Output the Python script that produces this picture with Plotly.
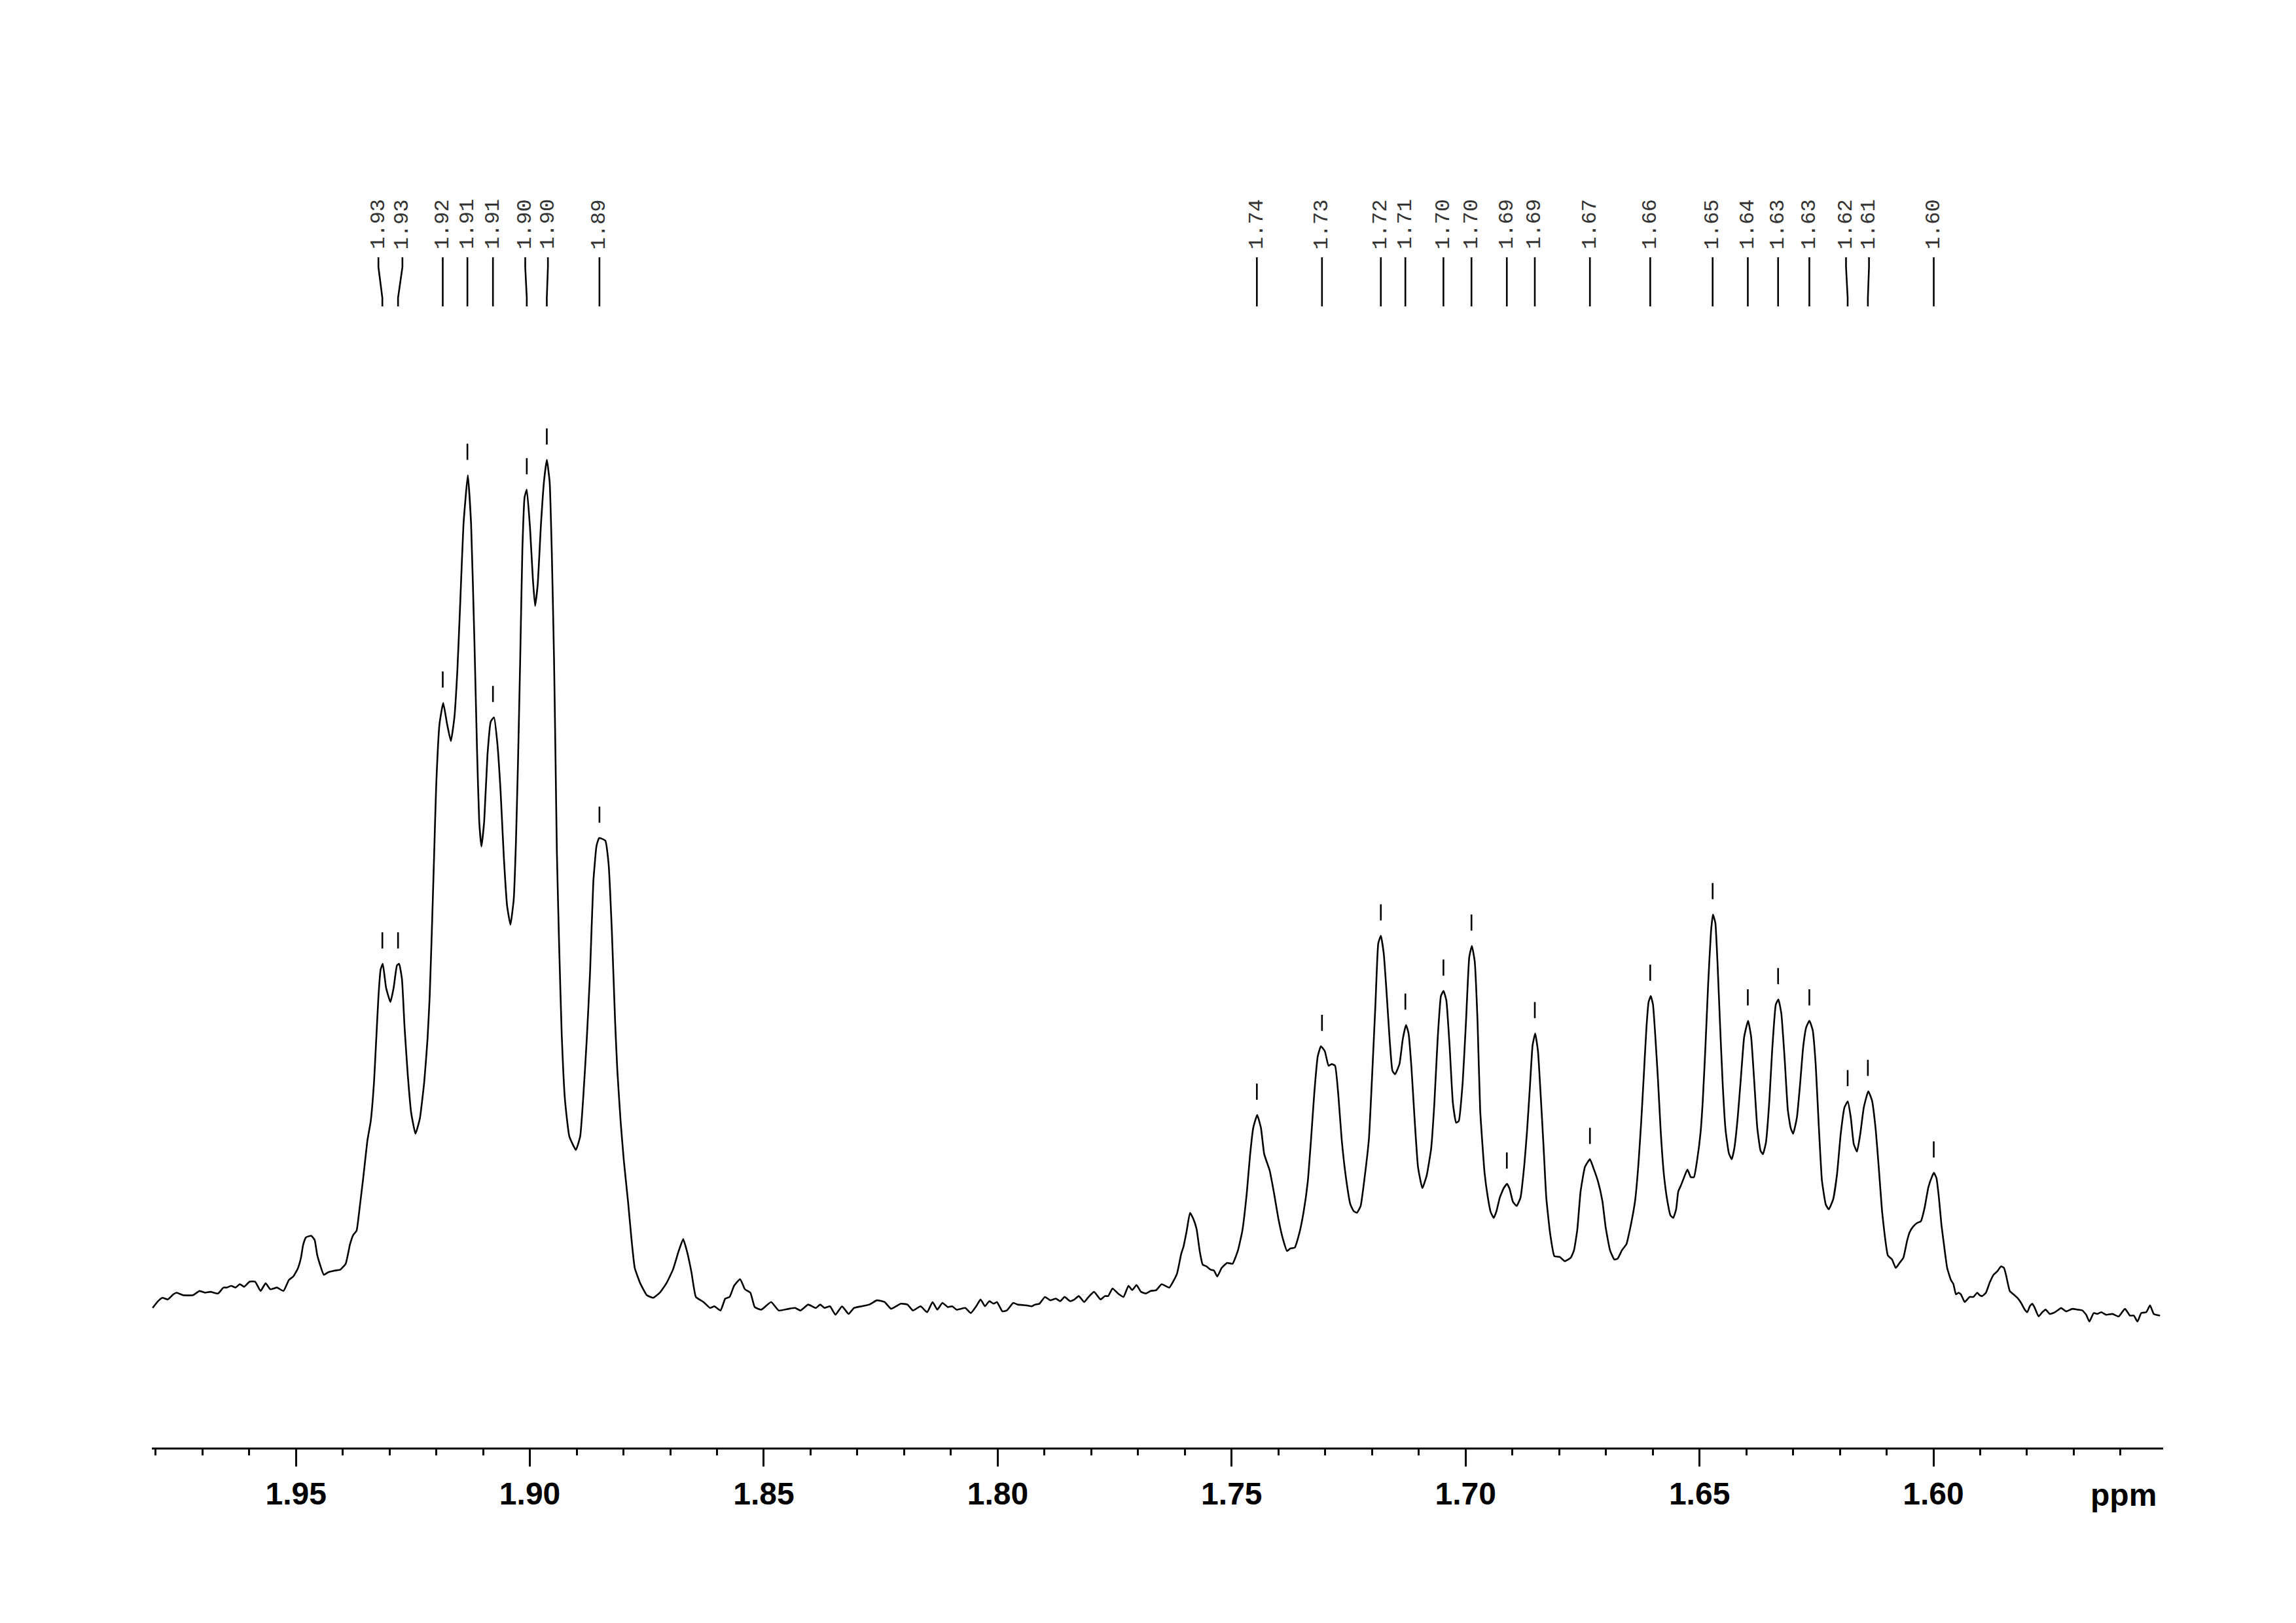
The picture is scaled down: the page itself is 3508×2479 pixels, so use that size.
import plotly.graph_objects as go

# ---------------- data ----------------
# chemical shift (ppm) and relative intensity (tallest peak = 100)
ppm = [
    1.98064, 1.97947, 1.97854, 1.97738, 1.97621, 1.97551, 1.97411, 1.97201, 1.97062, 1.96945,
    1.96828, 1.96665, 1.96549, 1.96479, 1.96385, 1.96292, 1.96199, 1.96106, 1.95989, 1.95873,
    1.95756, 1.95649, 1.95546, 1.95406, 1.95266, 1.95150, 1.95057, 1.94963, 1.94893, 1.94847,
    1.94786, 1.94674, 1.94600, 1.94544, 1.94404, 1.94310, 1.94170, 1.94054,
    1.93937, 1.93844, 1.93774, 1.93704, 1.93634, 1.93564, 1.93470, 1.93401, 1.93331, 1.93284,
    1.93237, 1.93191, 1.93144, 1.93074, 1.92981, 1.92911, 1.92841, 1.92794, 1.92734, 1.92678,
    1.92608, 1.92538, 1.92445, 1.92351, 1.92258, 1.92188, 1.92142, 1.92095, 1.92048, 1.92002,
    1.91932, 1.91852, 1.91769, 1.91689, 1.91615, 1.91549, 1.91489, 1.91419, 1.91326, 1.91256,
    1.91186, 1.91130, 1.91083, 1.91036, 1.90976, 1.90906, 1.90836, 1.90766, 1.90696, 1.90626,
    1.90556, 1.90486, 1.90416, 1.90346, 1.90300, 1.90253, 1.90206, 1.90160, 1.90113, 1.90066,
    1.89997, 1.89936, 1.89889, 1.89833, 1.89763, 1.89694, 1.89637, 1.89577, 1.89530, 1.89484,
    1.89451, 1.89423, 1.89376, 1.89320, 1.89250, 1.89157, 1.89017, 1.88924, 1.88854, 1.88784,
    1.88714, 1.88644, 1.88575, 1.88518, 1.88388, 1.88318, 1.88248, 1.88178, 1.88131,
    1.88061, 1.87991, 1.87898, 1.87828, 1.87758, 1.87641, 1.87501, 1.87362, 1.87222, 1.87082,
    1.86942, 1.86825, 1.86723, 1.86639, 1.86546, 1.86452, 1.86289, 1.86149, 1.86056, 1.85925,
    1.85823, 1.85730, 1.85636, 1.85506, 1.85403, 1.85287, 1.85193, 1.85053, 1.84844, 1.84680,
    1.84470, 1.84331, 1.84214, 1.84051, 1.83888, 1.83794, 1.83701, 1.83585, 1.83468, 1.83328,
    1.83188, 1.83072, 1.82908, 1.82745, 1.82582, 1.82419, 1.82279,
    1.82069, 1.81929, 1.81812, 1.81649, 1.81509, 1.81392, 1.81290, 1.81183, 1.81066, 1.80973,
    1.80880, 1.80693, 1.80577, 1.80460, 1.80367, 1.80273, 1.80180, 1.80087, 1.80017, 1.79901,
    1.79807, 1.79667, 1.79574, 1.79387, 1.79271, 1.79201, 1.79108, 1.78991, 1.78874, 1.78758,
    1.78665, 1.78571, 1.78455, 1.78361, 1.78268, 1.78152, 1.78058, 1.77942, 1.77802, 1.77709,
    1.77639, 1.77546, 1.77429, 1.77312, 1.77205, 1.77126, 1.77033, 1.76939, 1.76832, 1.76730,
    1.76613, 1.76497, 1.76333, 1.76170, 1.76077,
    1.76030, 1.75960, 1.75890, 1.75820, 1.75750, 1.75680, 1.75619, 1.75540, 1.75447, 1.75377,
    1.75307, 1.75214, 1.75097, 1.74981, 1.74864, 1.74771, 1.74677, 1.74608, 1.74538, 1.74454,
    1.74374, 1.74304, 1.74188, 1.74094, 1.74001, 1.73908, 1.73815, 1.73745, 1.73652, 1.73558,
    1.73465, 1.73372, 1.73302, 1.73232, 1.73160, 1.73092, 1.73008, 1.72929, 1.72859, 1.72789,
    1.72719, 1.72649, 1.72556, 1.72463, 1.72392, 1.72323, 1.72243, 1.72159, 1.72066, 1.71996,
    1.71926, 1.71866, 1.71810, 1.71749, 1.71693, 1.71623, 1.71563, 1.71507, 1.71413, 1.71343,
    1.71273, 1.71218, 1.71157, 1.71087, 1.71017, 1.70924, 1.70831, 1.70737, 1.70667, 1.70597,
    1.70527, 1.70471, 1.70411, 1.70341, 1.70271, 1.70201, 1.70145, 1.70061, 1.69991, 1.69921,
    1.69865, 1.69805, 1.69744, 1.69688,
    1.69594, 1.69524, 1.69464, 1.69399, 1.69339, 1.69268, 1.69184, 1.69114, 1.69058, 1.68988,
    1.68909, 1.68825, 1.68745, 1.68685, 1.68624, 1.68568, 1.68512, 1.68452, 1.68391, 1.68335,
    1.68275, 1.68196, 1.68102, 1.67986, 1.67878, 1.67753, 1.67682, 1.67612, 1.67542, 1.67448,
    1.67342, 1.67263, 1.67170, 1.67076, 1.67006, 1.66913, 1.66820, 1.66750, 1.66657, 1.66563,
    1.66470, 1.66377, 1.66307, 1.66246, 1.66190, 1.66134, 1.66088, 1.66041, 1.65994, 1.65948,
    1.65887, 1.65827, 1.65761, 1.65687, 1.65621, 1.65561, 1.65500, 1.65454, 1.65398, 1.65328,
    1.65258, 1.65188, 1.65118, 1.65048, 1.64978, 1.64931, 1.64875, 1.64815, 1.64754, 1.64712,
    1.64661, 1.64614, 1.64558, 1.64502, 1.64442, 1.64372, 1.64311, 1.64255, 1.64185, 1.64115,
    1.64045, 1.63961, 1.63896, 1.63835, 1.63765, 1.63695, 1.63644, 1.63579, 1.63508, 1.63448,
    1.63369, 1.63313, 1.63252, 1.63182, 1.63112, 1.63052,
    1.62998, 1.62918, 1.62849, 1.62784, 1.62720, 1.62651, 1.62581, 1.62517, 1.62452, 1.62383,
    1.62302, 1.62238, 1.62142, 1.62061, 1.61981, 1.61901, 1.61831, 1.61766, 1.61703, 1.61633,
    1.61563, 1.61488, 1.61392, 1.61312, 1.61232, 1.61168, 1.61098, 1.61044, 1.60975, 1.60884,
    1.60804, 1.60723, 1.60643, 1.60563, 1.60509, 1.60429, 1.60349, 1.60268, 1.60188, 1.60108,
    1.60027, 1.59990, 1.59936, 1.59883, 1.59829, 1.59776, 1.59706, 1.59626, 1.59572, 1.59519,
    1.59465, 1.59412, 1.59332, 1.59278, 1.59224, 1.59144, 1.59064, 1.59010, 1.58957, 1.58877,
    1.58796, 1.58716, 1.58636, 1.58555, 1.58491, 1.58449, 1.58368, 1.58288, 1.58207, 1.58127,
    1.58047, 1.57993, 1.57940, 1.57886, 1.57833, 1.57752, 1.57672, 1.57602, 1.57512, 1.57405,
    1.57324, 1.57271, 1.57164, 1.57030, 1.56923, 1.56816, 1.56735, 1.56666, 1.56575, 1.56494,
    1.56414, 1.56307, 1.56173, 1.56039, 1.55906, 1.55799, 1.55718, 1.55638, 1.55558, 1.55451,
    1.55370, 1.55290, 1.55156,
]

intensity = [
    0.4, 1.2, 1.6, 1.4, 2.0, 2.2, 1.9, 1.9, 2.4, 2.2,
    2.3, 2.1, 2.8, 2.8, 3.0, 2.8, 3.2, 2.9, 3.5, 3.5,
    2.4, 3.3, 2.6, 2.8, 2.4, 3.7, 4.1, 5.0, 6.3, 7.8,
    8.7, 8.9, 8.4, 6.6, 4.3, 4.6, 4.8, 4.9,
    5.6, 7.9, 9.0, 9.5, 12.4, 15.6, 20.2, 22.4, 27.0, 32.0,
    37.0, 40.2, 40.9, 38.1, 36.4, 38.1, 40.7, 40.9, 39.1, 33.4,
    27.7, 23.4, 20.9, 22.7, 27.0, 32.0, 37.0, 44.8, 53.4, 61.9,
    69.1, 71.6, 69.1, 67.1, 69.8, 75.5, 83.3, 92.6, 98.4, 92.6,
    79.0, 66.2, 57.7, 54.7, 57.7, 65.5, 69.4, 69.9, 66.9, 61.2,
    53.4, 47.7, 45.5, 48.4, 54.8, 64.8, 76.9, 89.7, 95.8, 96.7,
    92.2, 86.2, 83.0, 85.5, 92.6, 97.9, 100.2, 97.6, 89.0, 76.9,
    64.8, 54.1, 43.4, 32.7, 24.9, 20.6, 19.0, 20.6, 25.6, 32.0,
    39.8, 50.5, 54.8, 55.7, 55.4, 52.7, 44.8, 34.1, 28.4,
    22.4, 17.7, 12.7, 8.5, 5.1, 3.3, 1.9, 1.6, 2.2, 3.3,
    4.9, 7.0, 8.5, 7.0, 4.6, 1.7, 1.1, 0.4, 0.6, 0.1,
    1.5, 1.7, 3.0, 3.8, 2.6, 2.2, 0.5, 0.2, 1.1, 0.1,
    0.3, 0.4, 0.1, 0.8, 0.4, 0.8, 0.4, 0.6, -0.4, 0.6,
    -0.3, 0.4, 0.6, 0.8, 1.3, 1.1, 0.3,
    0.9, 0.8, 0.1, 0.6, -0.1, 1.1, 0.2, 1.0, 0.5, 0.6,
    0.2, 0.4, -0.2, 0.6, 1.4, 0.6, 1.2, 0.9, 1.1, 0.0,
    0.1, 1.0, 0.8, 0.7, 0.6, 0.8, 0.9, 1.7, 1.3, 1.5,
    1.2, 1.7, 1.2, 1.4, 1.8, 1.1, 1.7, 2.3, 1.4, 1.8,
    1.8, 2.7, 2.1, 1.7, 3.0, 2.5, 3.1, 2.3, 2.1, 2.4,
    2.5, 3.2, 2.8, 4.4, 6.8,
    7.6, 9.5, 11.6, 10.9, 9.7, 7.0, 5.5, 5.3, 4.9, 4.8,
    4.1, 5.1, 5.7, 5.6, 7.2, 9.5, 13.9, 18.3, 21.6, 23.1,
    21.6, 18.5, 16.6, 13.9, 10.9, 8.6, 7.1, 7.4, 7.5, 9.1,
    11.6, 15.3, 20.3, 25.8, 30.0, 31.2, 30.6, 28.9, 29.1, 28.9,
    25.4, 20.3, 15.7, 12.6, 11.8, 11.6, 12.4, 15.7, 20.3, 27.9,
    36.2, 43.3, 44.2, 42.1, 37.9, 32.0, 28.3, 27.9, 29.1, 32.0,
    33.7, 32.7, 28.7, 22.4, 17.0, 14.5, 16.0, 19.1, 24.5, 32.0,
    37.1, 37.7, 36.6, 31.2, 24.5, 22.2, 22.4, 27.0, 34.1, 41.7,
    43.0, 41.2, 34.1, 23.7,
    16.3, 13.4, 11.7, 11.0, 11.8, 13.4, 14.5, 15.0, 14.4, 12.9,
    12.4, 13.4, 17.2, 21.3, 26.5, 31.3, 32.7, 30.6, 25.1, 19.6,
    13.4, 9.3, 6.5, 6.4, 5.9, 6.3, 7.2, 9.6, 14.1, 17.0,
    17.9, 16.8, 15.3, 13.0, 9.9, 7.2, 6.1, 6.2, 7.2, 7.9,
    10.1, 13.0, 17.2, 22.3, 27.8, 33.4, 36.4, 37.1, 36.1, 32.7,
    27.2, 21.0, 16.1, 13.0, 11.3, 11.0, 12.0, 14.1, 14.8, 15.8,
    16.7, 15.8, 15.8, 17.9, 21.0, 24.7, 30.9, 38.5, 44.7, 46.7,
    45.7, 40.9, 33.4, 26.5, 21.3, 18.6, 17.9, 19.2, 22.7, 27.5,
    32.3, 34.2, 32.3, 27.5, 21.6, 18.9, 18.5, 19.9, 24.7, 30.6,
    36.1, 36.7, 35.1, 29.9, 23.7, 21.6,
    20.9, 22.8, 26.8, 31.1, 33.4, 34.2, 33.1, 29.1, 22.0, 15.4,
    12.6, 12.0, 13.2, 16.1, 20.9, 24.0, 24.7, 22.8, 19.7, 18.8,
    20.9, 24.0, 25.9, 24.8, 21.3, 16.9, 11.8, 9.1, 6.6, 6.1,
    5.1, 5.7, 6.3, 8.3, 9.3, 10.0, 10.4, 10.6, 12.2, 14.6,
    15.9, 16.3, 15.7, 13.4, 10.2, 7.9, 5.1, 3.7, 3.2, 2.0,
    2.2, 2.0, 1.1, 1.4, 1.7, 1.7, 2.2, 1.9, 1.8, 2.2,
    3.4, 4.3, 4.7, 5.3, 5.1, 4.3, 2.4, 2.0, 1.6, 1.0,
    0.2, -0.1, 0.6, 0.9, 0.4, -0.6, -0.1, 0.2, -0.3, -0.1,
    0.2, 0.4, 0.0, 0.3, 0.2, 0.1, -0.4, -1.2, -0.2, -0.3,
    -0.1, -0.4, -0.3, -0.6, 0.3, -0.5, -0.5, -1.2, -0.2, -0.1,
    0.7, -0.3, -0.5,
]

# picked peaks: label text, label (text) position, true peak position, peak height
label_text = ["1.93", "1.93", "1.92", "1.91", "1.91", "1.90", "1.90", "1.89",
              "1.74", "1.73", "1.72", "1.71", "1.70", "1.70", "1.69", "1.69", "1.67",
              "1.66", "1.65", "1.64", "1.63", "1.63", "1.62", "1.61", "1.60"]
label_ppm = [1.93237, 1.92724, 1.91862, 1.91335, 1.90789, 1.90099, 1.89614, 1.88513,
             1.74461, 1.73069, 1.71811, 1.71287, 1.70473, 1.69874, 1.69118, 1.68520, 1.67342,
             1.66053, 1.64719, 1.63967, 1.63320, 1.62652, 1.61868, 1.61377, 1.59993]
peak_ppm = [1.93153, 1.92818, 1.91862, 1.91335, 1.90789, 1.90066, 1.89638, 1.88513,
            1.74461, 1.73069, 1.71811, 1.71287, 1.70473, 1.69874, 1.69118, 1.68520, 1.67342,
            1.66053, 1.64719, 1.63967, 1.63320, 1.62652, 1.61833, 1.61401, 1.59993]
peak_height = [40.9, 40.9, 71.6, 98.4, 69.9, 96.7, 100.2, 55.7,
               23.1, 31.2, 44.2, 33.7, 37.7, 43.0, 15.0, 32.7, 17.9,
               37.1, 46.7, 34.2, 36.7, 34.2, 24.7, 25.9, 16.3]

major_ticks = [1.95, 1.90, 1.85, 1.80, 1.75, 1.70, 1.65, 1.60]
major_tick_text = ["1.95", "1.90", "1.85", "1.80", "1.75", "1.70", "1.65", "1.60"]

# ---------------- figure ----------------
W, H = 3508, 2479
M_L, M_R, M_T, M_B = 224, 211, 100, 276
X_RANGE = [1.9808, 1.5509]
Y_RANGE = [-16.025, 145.99]

fig = go.Figure()

fig.add_trace(go.Scatter(
    x=ppm, y=intensity, mode="lines",
    line=dict(color="black", width=2.6, shape="spline", smoothing=0.4),
    hoverinfo="skip", showlegend=False,
))

# small markers over picked peaks
mx, my = [], []
for p, h in zip(peak_ppm, peak_height):
    mx += [p, p, None]
    my += [h + 1.8, h + 3.7, None]
fig.add_trace(go.Scatter(
    x=mx, y=my, mode="lines", line=dict(color="black", width=2.6),
    hoverinfo="skip", showlegend=False,
))

# label connector lines (drawn on an overlay axis spanning the plot height 0..1)
Y_TOP, Y_B1, Y_B2, Y_BOT = 0.86448, 0.85735, 0.83500, 0.82882
cx, cy = [], []
for lp, pp in zip(label_ppm, peak_ppm):
    cx += [lp, lp, pp, pp, None]
    cy += [Y_TOP, Y_B1, Y_B2, Y_BOT, None]
fig.add_trace(go.Scatter(
    x=cx, y=cy, yaxis="y2", mode="lines", line=dict(color="black", width=2.6),
    hoverinfo="skip", showlegend=False,
))

annotations = []
for lp, txt in zip(label_ppm, label_text):
    annotations.append(dict(
        x=lp, xref="x", y=0.8692, yref="paper", text=txt, showarrow=False,
        textangle=-90, xanchor="center", yanchor="bottom",
        font=dict(family="Liberation Mono", size=32, color="#333333"),
    ))
annotations.append(dict(
    x=1.55198, xref="x", y=-0.0347, yref="paper", text="ppm", showarrow=False,
    xanchor="right", yanchor="middle",
    font=dict(family="Liberation Sans", size=48, color="black", weight="bold"),
))

fig.update_layout(
    width=W, height=H,
    margin=dict(l=M_L, r=M_R, t=M_T, b=M_B),
    paper_bgcolor="white", plot_bgcolor="white",
    showlegend=False,
    annotations=annotations,
    xaxis=dict(
        range=X_RANGE, showgrid=False, zeroline=False,
        showline=True, linecolor="black", linewidth=3,
        tickmode="array", tickvals=major_ticks, ticktext=major_tick_text,
        ticks="outside", ticklen=26, tickwidth=3, tickcolor="black",
        tickfont=dict(family="Liberation Sans", size=48, color="black", weight="bold"),
        minor=dict(dtick=0.01, tick0=0, ticks="outside", ticklen=9, tickwidth=3,
                   tickcolor="black", showgrid=False),
    ),
    yaxis=dict(range=Y_RANGE, visible=False, showgrid=False, zeroline=False),
    yaxis2=dict(range=[0, 1], overlaying="y", visible=False, showgrid=False, zeroline=False),
)

fig.write_html("out.html")
